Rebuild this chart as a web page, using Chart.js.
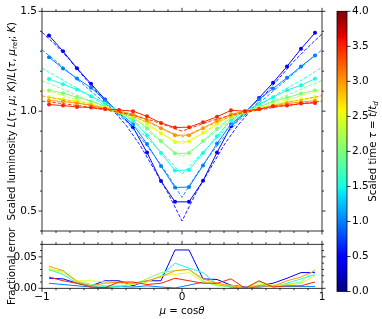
<!DOCTYPE html>
<html>
<head>
<meta charset="utf-8">
<script src="https://cdn.jsdelivr.net/npm/chart.js@4.4.1/dist/chart.umd.min.js"></script>
<style>
  html, body { margin: 0; padding: 0; background: #fff; }
  #wrap { position: relative; width: 382px; height: 319px; overflow: hidden; }
  canvas { position: absolute; left: 0; top: 0; }
</style>
</head>
<body>
<div id="wrap">
  <canvas id="lumChart" width="382" height="319"></canvas>
  <canvas id="errChart" width="382" height="319"></canvas>
  <canvas id="tauBar" width="382" height="319"></canvas>
</div>
<script>
// scaled times shown (one colour each)
const tauValues = [0.5, 1.0, 1.5, 2.0, 2.5, 3.0, 3.5];
const tauMax = 4.0;

// simulation bins and model grid
const muSim = [-0.95, -0.85, -0.75, -0.65, -0.55, -0.45, -0.35, -0.25, -0.15, -0.05,
               0.05, 0.15, 0.25, 0.35, 0.45, 0.55, 0.65, 0.75, 0.85, 0.95];
const muModel = [-1, -0.9, -0.8, -0.7, -0.6, -0.5, -0.4, -0.3, -0.2, -0.1, 0,
                 0.1, 0.2, 0.3, 0.4, 0.5, 0.6, 0.7, 0.8, 0.9, 1];

// simulated scaled luminosity (solid, dots)
const lumSim05 = [1.379, 1.300, 1.215, 1.137, 1.059, 0.990, 0.920, 0.793, 0.650, 0.546, 0.546, 0.651, 0.793, 0.924, 0.992, 1.066, 1.142, 1.224, 1.312, 1.392];
const lumSim10 = [1.270, 1.214, 1.164, 1.117, 1.055, 0.995, 0.935, 0.835, 0.725, 0.618, 0.620, 0.728, 0.838, 0.935, 0.995, 1.060, 1.113, 1.167, 1.224, 1.279];
const lumSim15 = [1.161, 1.135, 1.108, 1.075, 1.040, 1.000, 0.955, 0.880, 0.790, 0.703, 0.705, 0.790, 0.875, 0.955, 1.000, 1.035, 1.070, 1.105, 1.130, 1.162];
const lumSim20 = [1.104, 1.090, 1.070, 1.050, 1.025, 1.000, 0.970, 0.915, 0.850, 0.788, 0.790, 0.850, 0.912, 0.968, 1.000, 1.022, 1.048, 1.068, 1.088, 1.104];
const lumSim25 = [1.070, 1.060, 1.050, 1.035, 1.018, 1.000, 0.980, 0.940, 0.890, 0.846, 0.848, 0.892, 0.938, 0.978, 1.000, 1.016, 1.032, 1.046, 1.058, 1.070];
const lumSim30 = [1.054, 1.048, 1.040, 1.030, 1.015, 1.000, 0.985, 0.955, 0.915, 0.880, 0.880, 0.915, 0.952, 0.985, 1.000, 1.012, 1.026, 1.038, 1.046, 1.052];
const lumSim35 = [1.033, 1.028, 1.021, 1.018, 1.011, 1.006, 1.000, 0.974, 0.941, 0.918, 0.920, 0.945, 0.972, 1.004, 1.000, 1.010, 1.024, 1.028, 1.038, 1.041];

// model curves (dashed)
const lumModel05 = [1.395, 1.330, 1.255, 1.170, 1.090, 1.010, 0.930, 0.830, 0.710, 0.590, 0.450, 0.590, 0.710, 0.830, 0.930, 1.010, 1.090, 1.170, 1.250, 1.320, 1.387];
const lumModel10 = [1.307, 1.250, 1.190, 1.130, 1.070, 1.010, 0.950, 0.870, 0.780, 0.680, 0.568, 0.680, 0.780, 0.870, 0.950, 1.010, 1.070, 1.130, 1.190, 1.250, 1.307];
const lumModel15 = [1.215, 1.175, 1.135, 1.095, 1.050, 1.005, 0.960, 0.900, 0.830, 0.760, 0.685, 0.760, 0.830, 0.900, 0.960, 1.005, 1.050, 1.095, 1.135, 1.175, 1.220];
const lumModel20 = [1.152, 1.125, 1.095, 1.065, 1.035, 1.003, 0.970, 0.930, 0.875, 0.820, 0.770, 0.820, 0.875, 0.930, 0.970, 1.003, 1.035, 1.065, 1.095, 1.125, 1.154];
const lumModel25 = [1.105, 1.088, 1.068, 1.048, 1.025, 1.002, 0.978, 0.948, 0.910, 0.870, 0.835, 0.870, 0.910, 0.948, 0.978, 1.002, 1.025, 1.048, 1.068, 1.088, 1.108];
const lumModel30 = [1.076, 1.063, 1.050, 1.035, 1.018, 1.001, 0.984, 0.960, 0.930, 0.900, 0.870, 0.900, 0.930, 0.960, 0.984, 1.001, 1.018, 1.035, 1.050, 1.063, 1.078];
const lumModel35 = [1.050, 1.042, 1.033, 1.024, 1.012, 1.000, 0.988, 0.970, 0.950, 0.925, 0.900, 0.925, 0.950, 0.970, 0.988, 1.000, 1.012, 1.024, 1.033, 1.042, 1.050];

// fractional error (lower panel)
const err05 = [0.016, 0.015, 0.008, 0.004, 0.012, 0.012, 0.004, 0.012, 0.012, 0.061, 0.061, 0.015, 0.014, 0.005, 0.002, 0.004, 0.008, 0.016, 0.025, 0.025];
const err10 = [0.008, 0.006, 0.004, 0.002, 0.001, 0.003, 0.002, 0.004, 0.002, 0.0005, 0.005, 0.010, 0.006, 0.002, 0.001, 0.002, 0.004, 0.003, 0.003, 0.003];
const err15 = [0.030, 0.022, 0.008, 0.004, 0.003, 0.002, 0.008, 0.010, 0.020, 0.040, 0.032, 0.025, 0.006, 0.004, 0.001, 0.005, 0.003, 0.008, 0.015, 0.022];
const err20 = [0.028, 0.028, 0.012, 0.006, 0.004, 0.004, 0.006, 0.015, 0.025, 0.028, 0.030, 0.012, 0.004, 0.003, 0.001, 0.010, 0.003, 0.006, 0.010, 0.030];
const err25 = [0.032, 0.025, 0.012, 0.012, 0.010, 0.008, 0.006, 0.010, 0.020, 0.022, 0.025, 0.010, 0.006, 0.005, 0.001, 0.006, 0.005, 0.005, 0.008, 0.020];
const err30 = [0.035, 0.028, 0.010, 0.004, 0.008, 0.010, 0.008, 0.012, 0.018, 0.028, 0.030, 0.015, 0.008, 0.004, 0.001, 0.004, 0.003, 0.012, 0.018, 0.028];
const err35 = [0.018, 0.012, 0.008, 0.002, 0.001, 0.010, 0.010, 0.006, 0.008, 0.016, 0.012, 0.008, 0.008, 0.015, 0.000, 0.012, 0.002, 0.004, 0.004, 0.010];

const lumSim = [lumSim05, lumSim10, lumSim15, lumSim20, lumSim25, lumSim30, lumSim35];
const lumModel = [lumModel05, lumModel10, lumModel15, lumModel20, lumModel25, lumModel30, lumModel35];
const fracErr = [err05, err10, err15, err20, err25, err30, err35];

// ticks
const muTicks = [-1, 0, 1];
const lumTicks = [0.5, 1.0, 1.5];
const errTicks = [0.0, 0.05];
const tauTicks = [0.0, 0.5, 1.0, 1.5, 2.0, 2.5, 3.0, 3.5, 4.0];

const FONT = '"DejaVu Sans", "Liberation Sans", sans-serif';
Chart.defaults.font.family = FONT;
Chart.defaults.color = '#000';

// matplotlib jet
function jetChannel(pts, t) {
  for (let i = 1; i < pts.length; i++) {
    if (t <= pts[i][0]) {
      const [x0, y0] = pts[i - 1];
      const [x1, y1] = pts[i];
      return y0 + (y1 - y0) * (t - x0) / (x1 - x0);
    }
  }
  return pts[pts.length - 1][1];
}
function jet(t) {
  const r = jetChannel([[0, 0], [0.35, 0], [0.66, 1], [0.89, 1], [1, 0.5]], t);
  const g = jetChannel([[0, 0], [0.125, 0], [0.375, 1], [0.64, 1], [0.91, 0], [1, 0]], t);
  const b = jetChannel([[0, 0.5], [0.11, 1], [0.34, 1], [0.65, 0], [1, 0]], t);
  return `rgb(${Math.round(r * 255)}, ${Math.round(g * 255)}, ${Math.round(b * 255)})`;
}

function range(from, to, step) {
  const out = [];
  for (let v = from; v <= to + 1e-9; v += step) out.push(+v.toFixed(4));
  return out;
}
const fmtMinus = (s) => s.replace('-', '\u2212');

// outward ticks on the chosen sides + frame
const frameTicks = {
  id: 'frameTicks',
  afterDraw(chart, args, opts) {
    const { ctx, chartArea: a } = chart;
    ctx.save();
    ctx.strokeStyle = '#000';
    ctx.lineWidth = 0.8;
    ctx.beginPath();
    (opts.marks || []).forEach((m) => {
      const scale = chart.scales[m.axis];
      m.values.forEach((v) => {
        const p = scale.getPixelForValue(v);
        m.sides.forEach((side) => {
          if (side === 'left') { ctx.moveTo(a.left, p); ctx.lineTo(a.left - m.len, p); }
          if (side === 'right') { ctx.moveTo(a.right, p); ctx.lineTo(a.right + m.len, p); }
          if (side === 'top') { ctx.moveTo(p, a.top); ctx.lineTo(p, a.top - m.len); }
          if (side === 'bottom') { ctx.moveTo(p, a.bottom); ctx.lineTo(p, a.bottom + m.len); }
        });
      });
    });
    ctx.stroke();
    ctx.strokeRect(a.left, a.top, a.right - a.left, a.bottom - a.top);
    ctx.restore();
  }
};

// axis titles with italics / subscripts
function richText(ctx, parts, x, y, size, vertical) {
  ctx.save();
  ctx.translate(x, y);
  if (vertical) ctx.rotate(-Math.PI / 2);
  ctx.fillStyle = '#000';
  ctx.textBaseline = 'alphabetic';
  const fontOf = (p) => (p.it ? 'italic ' : '') + (p.sub ? size * 0.7 : size) + 'px ' + FONT;
  let total = 0;
  parts.forEach((p) => { ctx.font = fontOf(p); total += ctx.measureText(p.t).width; });
  let cx = -total / 2;
  parts.forEach((p) => {
    ctx.font = fontOf(p);
    ctx.fillText(p.t, cx, size * 0.36 + (p.sub ? size * 0.22 : 0));
    cx += ctx.measureText(p.t).width;
  });
  ctx.restore();
}
const axisTitles = {
  id: 'axisTitles',
  afterDraw(chart, args, opts) {
    const a = chart.chartArea;
    (opts.items || []).forEach((it) => {
      const x = it.vertical ? (it.side === 'right' ? a.right + it.offset : a.left - it.offset) : (a.left + a.right) / 2;
      const y = it.vertical ? (a.top + a.bottom) / 2 : a.bottom + it.offset;
      richText(chart.ctx, it.parts, x, y, it.size, it.vertical);
    });
  }
};

const TICK_FONT = { size: 10.5 };
const LABEL_SIZE = 10.2;

// ---------- upper panel ----------
const lumDatasets = [];
tauValues.forEach((tau, i) => {
  const col = jet(tau / tauMax);
  lumDatasets.push({
    data: muModel.map((mu, k) => ({ x: mu, y: lumModel[i][k] })),
    borderColor: col, borderWidth: 0.9, borderDash: [3.5, 1.7],
    pointRadius: 0, order: 2 * (tauValues.length - i) + 1
  });
  lumDatasets.push({
    data: muSim.map((mu, k) => ({ x: mu, y: lumSim[i][k] })),
    borderColor: col, backgroundColor: col, borderWidth: 1,
    pointRadius: 2, pointBorderWidth: 0, pointBackgroundColor: col,
    order: 2 * (tauValues.length - i)
  });
});

new Chart(document.getElementById('lumChart'), {
  type: 'line',
  data: { datasets: lumDatasets },
  options: {
    responsive: false, animation: false,
    layout: { padding: { left: 0, top: 10.7, right: 60, bottom: 88 } },
    plugins: {
      legend: { display: false }, tooltip: { enabled: false },
      frameTicks: { marks: [
        { axis: 'x', values: muTicks, sides: ['top', 'bottom'], len: 3.5 },
        { axis: 'x', values: range(-0.9, 0.9, 0.1).filter((v) => Math.abs(v) > 1e-6), sides: ['top', 'bottom'], len: 2 },
        { axis: 'y', values: lumTicks, sides: ['left', 'right'], len: 3.5 },
        { axis: 'y', values: range(0.4, 1.4, 0.1).filter((v) => !lumTicks.some((t) => Math.abs(t - v) < 1e-6)), sides: ['left', 'right'], len: 2 }
      ] },
      axisTitles: { items: [
        { vertical: true, side: 'left', offset: 31, size: LABEL_SIZE, parts: [
          { t: 'Scaled luminosity ' }, { t: 'L', it: true }, { t: '(' }, { t: 'τ', it: true }, { t: ', ' },
          { t: 'μ', it: true }, { t: '; ' }, { t: 'K', it: true }, { t: ')/' }, { t: 'L', it: true }, { t: '(' },
          { t: 'τ', it: true }, { t: ', ' }, { t: 'μ', it: true }, { t: 'ref', sub: true }, { t: '; ' },
          { t: 'K', it: true }, { t: ')' }
        ] }
      ] }
    },
    scales: {
      x: {
        type: 'linear', min: -1, max: 1,
        grid: { display: false, drawTicks: false }, border: { display: false },
        ticks: { display: false },
        afterFit: (s) => { s.height = 0; }
      },
      y: {
        type: 'linear', min: 0.4, max: 1.5,
        grid: { display: false, drawTicks: false }, border: { display: false },
        ticks: { font: TICK_FONT, padding: 5, callback: (v) => v.toFixed(1) },
        afterBuildTicks: (s) => { s.ticks = lumTicks.map((v) => ({ value: v })); },
        afterFit: (s) => { s.width = 42; }
      }
    }
  },
  plugins: [frameTicks, axisTitles]
});

// ---------- lower panel ----------
const errDatasets = tauValues.map((tau, i) => ({
  data: muSim.map((mu, k) => ({ x: mu, y: fracErr[i][k] })),
  borderColor: jet(tau / tauMax), borderWidth: 1, pointRadius: 0,
  order: tauValues.length - i
}));

new Chart(document.getElementById('errChart'), {
  type: 'line',
  data: { datasets: errDatasets },
  options: {
    responsive: false, animation: false,
    layout: { padding: { left: 0, top: 244.3, right: 60, bottom: 0 } },
    plugins: {
      legend: { display: false }, tooltip: { enabled: false },
      frameTicks: { marks: [
        { axis: 'x', values: muTicks, sides: ['top', 'bottom'], len: 3.5 },
        { axis: 'x', values: range(-0.9, 0.9, 0.1).filter((v) => Math.abs(v) > 1e-6), sides: ['top', 'bottom'], len: 2 },
        { axis: 'y', values: errTicks, sides: ['left', 'right'], len: 3.5 },
        { axis: 'y', values: [0.01, 0.02, 0.03, 0.04, 0.06, 0.07], sides: ['left', 'right'], len: 2 }
      ] },
      axisTitles: { items: [
        { vertical: true, side: 'left', offset: 31, size: LABEL_SIZE, parts: [{ t: 'Fractional error' }] },
        { vertical: false, offset: 22, size: LABEL_SIZE, parts: [
          { t: 'μ', it: true }, { t: ' = cos' }, { t: 'θ', it: true }
        ] }
      ] }
    },
    scales: {
      x: {
        type: 'linear', min: -1, max: 1,
        grid: { display: false, drawTicks: false }, border: { display: false },
        ticks: { font: TICK_FONT, padding: 3, maxRotation: 0, callback: (v) => fmtMinus(String(v)) },
        afterBuildTicks: (s) => { s.ticks = muTicks.map((v) => ({ value: v })); },
        afterFit: (s) => { s.height = 319 - 288.3; }
      },
      y: {
        type: 'linear', min: 0, max: 0.07,
        grid: { display: false, drawTicks: false }, border: { display: false },
        ticks: { font: TICK_FONT, padding: 5, callback: (v) => v.toFixed(2) },
        afterBuildTicks: (s) => { s.ticks = errTicks.map((v) => ({ value: v })); },
        afterFit: (s) => { s.width = 42; }
      }
    }
  },
  plugins: [frameTicks, axisTitles]
});

// ---------- colour bar ----------
new Chart(document.getElementById('tauBar'), {
  type: 'bar',
  data: {
    labels: ['τ'],
    datasets: [{
      data: [[0, tauMax]],
      borderWidth: 0, barPercentage: 1, categoryPercentage: 1,
      backgroundColor: (c) => {
        const { chart } = c;
        const a = chart.chartArea;
        if (!a) return '#888';
        const ys = chart.scales.y;
        const g = chart.ctx.createLinearGradient(0, ys.getPixelForValue(0), 0, ys.getPixelForValue(tauMax));
        for (let k = 0; k <= 100; k++) g.addColorStop(k / 100, jet(k / 100));
        return g;
      }
    }]
  },
  options: {
    responsive: false, animation: false,
    layout: { padding: { left: 337, top: 6.5, right: 0, bottom: 319 - 291.5 } },
    plugins: {
      legend: { display: false }, tooltip: { enabled: false },
      frameTicks: { marks: [
        { axis: 'y', values: tauTicks, sides: ['right'], len: 3.5 }
      ] },
      axisTitles: { items: [
        { vertical: true, side: 'right', offset: 25, size: LABEL_SIZE, parts: [
          { t: 'Scaled time ' }, { t: 'τ', it: true }, { t: ' = ' }, { t: 't', it: true }, { t: '/' },
          { t: 't', it: true }, { t: 'd', it: true, sub: true }
        ] }
      ] }
    },
    scales: {
      x: { display: false },
      y: {
        position: 'right', min: 0, max: tauMax,
        grid: { display: false, drawTicks: false }, border: { display: false },
        ticks: { font: TICK_FONT, padding: 5, callback: (v) => v.toFixed(1) },
        afterBuildTicks: (s) => { s.ticks = tauTicks.map((v) => ({ value: v })); },
        afterFit: (s) => { s.width = 35; }
      }
    }
  },
  plugins: [frameTicks, axisTitles]
});
</script>
</body>
</html>
